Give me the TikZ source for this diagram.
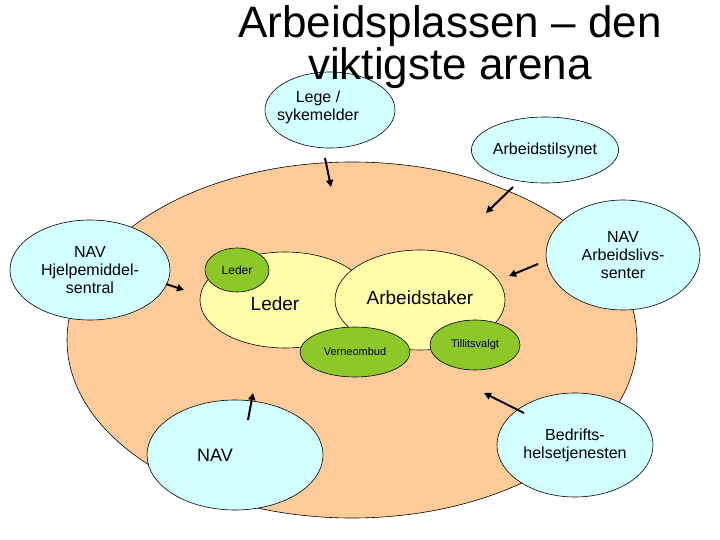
\documentclass[tikz,border=0pt]{standalone}
\usepackage{fontspec}
\setmainfont{Liberation Sans}
\usetikzlibrary{shapes.geometric,arrows.meta}
\definecolor{gr}{RGB}{140,200,40}
\definecolor{cy}{RGB}{210,255,255}
\definecolor{og}{RGB}{255,204,153}
\definecolor{yl}{RGB}{255,255,170}
\begin{document}
\begin{tikzpicture}[x=1pt,y=-1pt,
  ell/.style={ellipse,draw=black,line width=0.6pt,inner sep=0pt,align=center},
  cyanell/.style={ell,fill=cy},
  greenell/.style={ell,fill=gr},
  arr/.style={-{Triangle[length=7pt,width=7pt]},line width=2pt}]
\useasboundingbox (0,0) rectangle (720,540);
\node[ell,fill=og,minimum width=570,minimum height=356] (big) at (352,340) {};
\node[ell,fill=yl,minimum width=170,minimum height=96] (leder) at (285,300) {};
\node[ell,fill=yl,minimum width=170,minimum height=100] (arb) at (420,300) {};
\node[font=\fontsize{19}{21}\selectfont] (lt) at (275,304) {Leder};
\node[font=\fontsize{19}{21}\selectfont] (at) at (420,298) {Arbeidstaker};
\node[greenell,minimum width=64,minimum height=44,font=\fontsize{12}{14}\selectfont] (ls) at (237,270) {Leder};
\node[greenell,minimum width=110,minimum height=50,font=\fontsize{11}{13}\selectfont] (ve) at (355,352) {Verneombud};
\node[greenell,minimum width=90,minimum height=50,font=\fontsize{11}{13}\selectfont] (ti) at (475,345) {Tillitsvalgt};
\node[cyanell,minimum width=130,minimum height=76] (lege) at (330,110) {};
\node[font=\fontsize{44}{48}\selectfont,align=center] (title) at (450,47) {Arbeidsplassen – den\\[-6pt]viktigste arena};
\node[font=\fontsize{16}{18}\selectfont,align=center] (legt) at (318,107) {Lege /\\sykemelder};
\node[cyanell,minimum width=144,minimum height=66,font=\fontsize{16}{18}\selectfont] (at2) at (545,150) {Arbeidstilsynet};
\node[cyanell,minimum width=154,minimum height=110,font=\fontsize{16}{18}\selectfont] (nas) at (623,255) {NAV\\Arbeidslivs-\\senter};
\node[cyanell,minimum width=160,minimum height=100,font=\fontsize{16}{18}\selectfont] (nhs) at (90,270) {NAV\\Hjelpemiddel-\\sentral};
\node[cyanell,minimum width=176,minimum height=110] (nav) at (235,455) {};
\node[font=\fontsize{18}{20}\selectfont] (navt) at (215,455) {NAV};
\node[cyanell,minimum width=156,minimum height=104,font=\fontsize{16}{18}\selectfont] (bht) at (575,445) {Bedrifts-\\helsetjenesten};
\coordinate (s1) at (325,158); \coordinate (a1) at (331,187);
\coordinate (s2) at (513,187); \coordinate (a2) at (486,213);
\coordinate (s3) at (538,264); \coordinate (a3) at (509,276);
\coordinate (s4) at (166,284); \coordinate (a4) at (184,290);
\coordinate (s5) at (248,420); \coordinate (a5) at (253,393);
\coordinate (s6) at (524,413); \coordinate (a6) at (484,393);
\foreach \i in {1,...,6} \draw[arr] (s\i) -- (a\i);
\end{tikzpicture}
\end{document}
